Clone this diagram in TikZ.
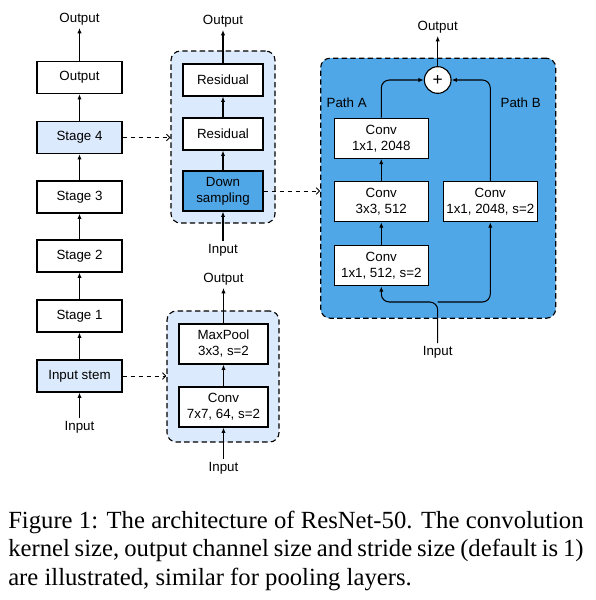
\documentclass[tikz,border=0pt]{standalone}
\usepackage{fontspec}
\usepackage{tikz}
\usetikzlibrary{arrows.meta}
\newfontfamily\diagfont{Liberation Sans}
\newfontfamily\capfont{Liberation Serif}
\definecolor{paleblue}{RGB}{219,234,252}
\definecolor{deepblue}{RGB}{80,167,231}

\begin{document}
\begin{tikzpicture}[x=0.75pt,y=0.75pt,yscale=-1,xscale=1,
  font=\diagfont\fontsize{10}{12}\selectfont,
  blk/.style={draw,line width=0.85pt,fill=white,align=center,inner sep=1pt},
  stagebox/.style={blk,minimum width=63.75pt,minimum height=24pt},
  resbox/.style={blk,minimum width=60pt,minimum height=24pt},
  convbox/.style={blk,minimum width=70.5pt,minimum height=30pt},
  group/.style={draw,dash pattern=on 4pt off 2.5pt,line width=0.85pt,rounded corners=7pt},
  arr/.style={line width=0.8pt,-{Latex[length=4pt,width=3.2pt]}},
  dasharr/.style={line width=0.7pt,dash pattern=on 3.5pt off 2.5pt,-{Straight Barb[length=2.5pt,width=5pt]}},
  lbl/.style={inner sep=2pt}]
%uncomment if require: \path (0,600); %set diagram height of 600
\path[use as bounding box] (0,0) rectangle (596,600);
%Group: containers
\node[group,fill=paleblue,minimum width=78pt,minimum height=129pt] (resgrp) at (223,137) {};
\node[group,fill=paleblue,minimum width=84pt,minimum height=98.25pt] (stemgrp) at (223,376.5) {};
\node[group,fill=deepblue,minimum width=176.25pt,minimum height=195pt] (bottlegrp) at (438.2,188.2) {};
%Column: network
\node[stagebox] (outbox) at (79.5,77.5) {Output};
\node[stagebox,fill=paleblue] (stage4) at (79.5,137.5) {Stage 4};
\node[stagebox] (stage3) at (79.5,197) {Stage 3};
\node[stagebox] (stage2) at (79.5,256) {Stage 2};
\node[stagebox] (stage1) at (79.5,316) {Stage 1};
\node[stagebox,fill=paleblue] (stem) at (79.5,376) {Input stem};
\node[lbl] (netout) at (79.5,19) {Output};
\node[lbl] (netin) at (79.5,427) {Input};
\draw[arr] (netin) -- (stem);
\draw[arr] (stem) -- (stage1);
\draw[arr] (stage1) -- (stage2);
\draw[arr] (stage2) -- (stage3);
\draw[arr] (stage3) -- (stage4);
\draw[arr] (stage4) -- (outbox);
\draw[arr] (outbox) -- (netout);
%Column: stage 4
\node[resbox] (res1) at (223,80) {Residual};
\node[resbox] (res2) at (223,134) {Residual};
\node[resbox,fill=deepblue,minimum height=30pt] (down) at (223,191) {Down\\sampling};
\node[lbl] (resout) at (223,21) {Output};
\node[lbl] (resin) at (223,250) {Input};
\draw[arr] (resin) -- (down);
\draw[arr] (down) -- (res2);
\draw[arr] (res2) -- (res1);
\draw[arr] (res1) -- (resout);
%Column: input stem
\node[blk,minimum width=66.75pt,minimum height=30pt] (pool) at (223.5,344) {MaxPool\\3x3, s=2};
\node[blk,minimum width=66.75pt,minimum height=30pt] (conv7) at (223.5,407) {Conv\\7x7, 64, s=2};
\node[lbl] (stemout) at (223.5,279) {Output};
\node[lbl] (stemin) at (223.5,468) {Input};
\draw[arr] (stemin) -- (conv7);
\draw[arr] (conv7) -- (pool);
\draw[arr] (pool) -- (stemout);
%Block: downsampling bottleneck
\node[draw,circle,fill=white,line width=0.85pt,minimum size=20pt,inner sep=0pt,
  font=\diagfont\fontsize{13}{13}\selectfont] (plus) at (437.7,80) {+};
\node[convbox] (convA1) at (381.3,138.3) {Conv\\1x1, 2048};
\node[convbox] (convA2) at (381.3,201.7) {Conv\\3x3, 512};
\node[convbox] (convA3) at (381.3,265.7) {Conv\\1x1, 512, s=2};
\node[convbox] (convB) at (490.3,201.7) {Conv\\1x1, 2048, s=2};
\node[lbl] at (346.7,102.7) {Path A};
\node[lbl] at (520.7,102.7) {Path B};
\node[lbl] (blockout) at (437.7,27) {Output};
\node[lbl] (blockin) at (437.7,352) {Input};
\coordinate (fork) at (437.7,302);
\draw[arr,rounded corners=6pt] (blockin) -- (fork) -| (convA3);
\draw[arr,rounded corners=6pt] (fork) -| (convB);
\draw[arr] (convA3) -- (convA2);
\draw[arr] (convA2) -- (convA1);
\draw[arr,rounded corners=6pt] (convA1) |- (plus);
\draw[arr,rounded corners=6pt] (convB) |- (plus);
\draw[arr] (plus) -- (blockout);
%Links: dashed zoom-ins
\draw[dasharr] (stage4.east) -- (stage4.east -| resgrp.west);
\draw[dasharr] (stem.east) -- (stem.east -| stemgrp.west);
\draw[dasharr] (down.east) -- (down.east -| bottlegrp.west);
%Caption
\node[anchor=north west,inner sep=0pt,text width=431.5pt,align=justify,
  font=\capfont\fontsize{18.5}{21.2}\selectfont] (caption) at (8,511)
  {\hyphenpenalty=10000 Figure 1: The architecture of ResNet-50. The convolution\linebreak
   kernel size, output channel size and stride size (default is 1)\linebreak
   are illustrated, similar for pooling layers.};
\end{tikzpicture}
\end{document}
